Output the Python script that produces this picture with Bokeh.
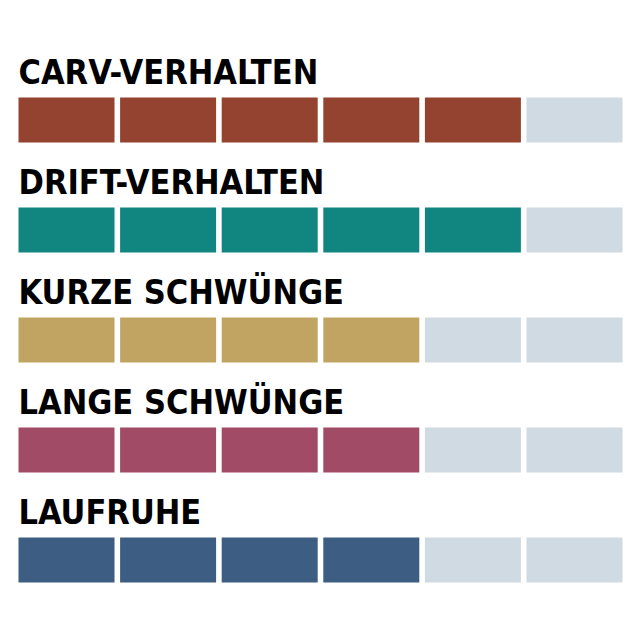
from bokeh.plotting import figure
from bokeh.models import Range1d, ColumnDataSource
from bokeh.core.properties import value
from bokeh.embed import file_html
from bokeh.resources import INLINE

categories = ["CARV-VERHALTEN", "DRIFT-VERHALTEN", "KURZE SCHWÜNGE", "LANGE SCHWÜNGE", "LAUFRUHE"]
scores = [5, 5, 4, 4, 4]
max_score = 6
colors = ["#93432F", "#118580", "#C2A462", "#A24B67", "#3D5D82"]
empty_color = "#CFDAE2"

seg_w = 96 / 101.6
bar_h = 45 / 110

xs, ys, fills = [], [], []
for r, (s, c) in enumerate(zip(scores, colors)):
    for i in range(max_score):
        xs.append(i + seg_w / 2)
        ys.append(r + bar_h / 2)
        fills.append(c if i < s else empty_color)

src = ColumnDataSource(dict(x=xs, y=ys, fill=fills))

x0 = -18 / 101.6
y0 = -97 / 110
p = figure(width=624, height=624, output_backend="svg", toolbar_location=None,
           x_range=Range1d(x0, x0 + 624 / 101.6),
           y_range=Range1d(y0 + 624 / 110, y0),
           min_border=0)
p.axis.visible = False
p.grid.visible = False
p.outline_line_color = None
p.background_fill_color = "white"
p.border_fill_color = "white"

p.rect(x="x", y="y", width=seg_w, height=bar_h, fill_color="fill", line_color=None, source=src)

tsrc = ColumnDataSource(dict(x=[0] * len(categories),
                             y=[r - 26 / 110 for r in range(len(categories))],
                             t=categories))
p.text(x="x", y="y", text="t", source=tsrc,
       text_font=value("DejaVu Sans Condensed, Liberation Sans Narrow, Roboto"), text_font_style="bold",
       text_font_size="34px", text_color="#000000",
       text_baseline="alphabetic", text_align="left")

open("out.html", "w").write(file_html(p, INLINE))
